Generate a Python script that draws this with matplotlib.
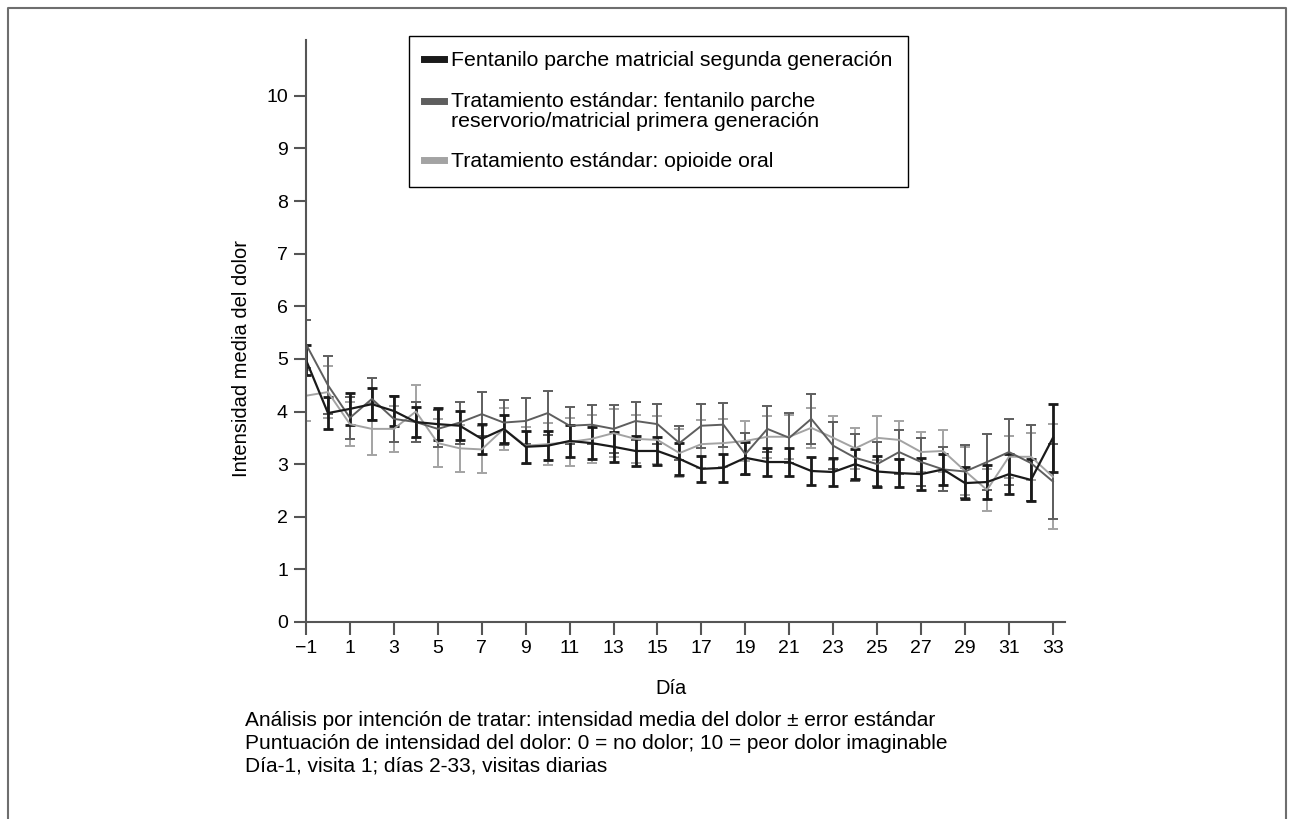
import matplotlib
matplotlib.use("Agg")
import matplotlib.pyplot as plt
import numpy as np
from matplotlib.legend_handler import HandlerLine2D
from matplotlib.lines import Line2D

plt.rcParams["font.family"] = ["Liberation Sans", "DejaVu Sans"]

days = np.arange(-1, 34)

# Fentanilo parche matricial segunda generación
mean_2g = [4.98, 3.97, 4.05, 4.14, 4.01, 3.80, 3.76, 3.73, 3.48, 3.67,
           3.33, 3.35, 3.44, 3.40, 3.33, 3.25, 3.25, 3.10, 2.91, 2.93,
           3.12, 3.04, 3.04, 2.87, 2.85, 3.00, 2.86, 2.83, 2.81, 2.90,
           2.64, 2.66, 2.81, 2.70, 3.50]
se_2g = [0.28, 0.31, 0.30, 0.30, 0.29, 0.28, 0.30, 0.28, 0.29, 0.27,
         0.30, 0.28, 0.30, 0.30, 0.28, 0.28, 0.27, 0.30, 0.25, 0.27,
         0.30, 0.27, 0.27, 0.27, 0.27, 0.28, 0.29, 0.27, 0.30, 0.30,
         0.30, 0.33, 0.38, 0.40, 0.65]

# Tratamiento estándar: fentanilo parche reservorio/matricial 1ª generación
mean_1g = [5.28, 4.50, 3.88, 4.24, 3.86, 3.80, 3.67, 3.79, 3.95, 3.79,
           3.82, 3.97, 3.73, 3.75, 3.67, 3.82, 3.76, 3.40, 3.73, 3.75,
           3.19, 3.67, 3.50, 3.86, 3.35, 3.12, 3.00, 3.23, 3.04, 2.90,
           2.86, 3.04, 3.23, 3.02, 2.67]
se_1g = [0.45, 0.55, 0.40, 0.40, 0.44, 0.38, 0.35, 0.40, 0.42, 0.43,
         0.44, 0.42, 0.35, 0.37, 0.45, 0.37, 0.38, 0.32, 0.42, 0.42,
         0.40, 0.43, 0.47, 0.47, 0.45, 0.45, 0.42, 0.42, 0.46, 0.42,
         0.50, 0.53, 0.63, 0.72, 0.72]

# Tratamiento estándar: opioide oral
mean_oral = [4.30, 4.37, 3.76, 3.67, 3.67, 4.00, 3.40, 3.30, 3.28, 3.67,
             3.35, 3.38, 3.42, 3.48, 3.59, 3.48, 3.46, 3.21, 3.38, 3.40,
             3.44, 3.52, 3.52, 3.69, 3.50, 3.30, 3.50, 3.46, 3.23, 3.25,
             2.87, 2.51, 3.14, 3.14, 2.76]
se_oral = [0.48, 0.50, 0.42, 0.50, 0.43, 0.50, 0.45, 0.45, 0.45, 0.40,
           0.35, 0.40, 0.45, 0.45, 0.45, 0.45, 0.45, 0.45, 0.45, 0.45,
           0.38, 0.40, 0.42, 0.38, 0.42, 0.39, 0.42, 0.36, 0.38, 0.40,
           0.45, 0.40, 0.40, 0.45, 1.00]

labels = [
    "Fentanilo parche matricial segunda generación",
    "Tratamiento estándar: fentanilo parche\nreservorio/matricial primera generación",
    "Tratamiento estándar: opioide oral",
]
colors = ["#1a1a1a", "#5e5e5e", "#a3a3a3"]

x_ticks = list(range(-1, 34, 2))
y_ticks = list(range(0, 11))

footnote = [
    "Análisis por intención de tratar: intensidad media del dolor ± error estándar",
    "Puntuación de intensidad del dolor: 0 = no dolor; 10 = peor dolor imaginable",
    "Día-1, visita 1; días 2-33, visitas diarias",
]


class BarHandler(HandlerLine2D):
    """Legend bar nudged left, and up to the first line for two-line labels."""

    def __init__(self, yshift=0.0, **kw):
        super().__init__(**kw)
        self.yshift = yshift

    def create_artists(self, legend, orig_handle, xdescent, ydescent,
                       width, height, fontsize, trans):
        arts = super().create_artists(legend, orig_handle, xdescent, ydescent,
                                      width, height, fontsize, trans)
        for a in arts:
            xd = np.asarray(a.get_xdata(), dtype=float)
            if xd.size == 2:
                a.set_xdata([xd[0] - 0.42 * fontsize, xd[1] - 0.1 * fontsize])
            a.set_ydata(np.asarray(a.get_ydata()) + self.yshift * fontsize)
        return arts


W, H = 1294, 819
fig = plt.figure(figsize=(W / 100, H / 100), dpi=100)
ax = fig.add_axes([306 / W, 1 - 622 / H, (1065 - 306) / W, (622 - 40) / H])

series = [
    (mean_oral, se_oral, colors[2], 1.4, 1.4),
    (mean_1g, se_1g, colors[1], 1.4, 1.4),
    (mean_2g, se_2g, colors[0], 1.6, 2.0),
]
for m, se, c, lw, elw in series:
    ax.errorbar(days, m, yerr=se, color=c, linewidth=lw, elinewidth=elw,
                capsize=3.8, capthick=elw)

ax.set_xlim(-1, 33.55)
ax.set_ylim(0, 11.06)
ax.set_xticks(x_ticks)
ax.set_yticks(y_ticks)
ax.tick_params(labelsize=14, length=9, width=1.5, color="#555555", pad=4)
for side in ("top", "right"):
    ax.spines[side].set_visible(False)
for side in ("left", "bottom"):
    ax.spines[side].set_color("#555555")
    ax.spines[side].set_linewidth(1.5)
ax.set_ylabel("Intensidad media del dolor", fontsize=14.5)
ax.yaxis.set_label_coords(-0.072, 5 / 11.06)

fig.text(671 / W, 1 - 688 / H, "Día", fontsize=14.5, ha="center", va="center")
for i, line in enumerate(footnote):
    fig.text(245 / W, 1 - (721 + 22.5 * i) / H, line, fontsize=15,
             ha="left", va="center")

handles = [Line2D([], [], color=c, linewidth=5) for c in colors]
leg = ax.legend(handles, labels, loc="upper left",
                bbox_to_anchor=(409 / W, 1 - 36 / H),
                bbox_transform=fig.transFigure, fontsize=15.3,
                frameon=True, fancybox=False, edgecolor="black",
                framealpha=1, borderaxespad=0, borderpad=0.72,
                handlelength=0.95, handletextpad=0.3, labelspacing=1.02,
                handler_map={handles[0]: BarHandler(),
                             handles[1]: BarHandler(yshift=0.5),
                             handles[2]: BarHandler()})
leg.get_frame().set_linewidth(1.0)
for t in leg.get_texts():
    t.set_linespacing(1.05)

# outer panel frame
frame = Line2D([8 / W, 8 / W, 1286 / W, 1286 / W],
               [0, 1 - 8 / H, 1 - 8 / H, 0], transform=fig.transFigure,
               color="#6e6e6e", linewidth=1.5)
fig.add_artist(frame)

fig.savefig("out.png", dpi=100)
